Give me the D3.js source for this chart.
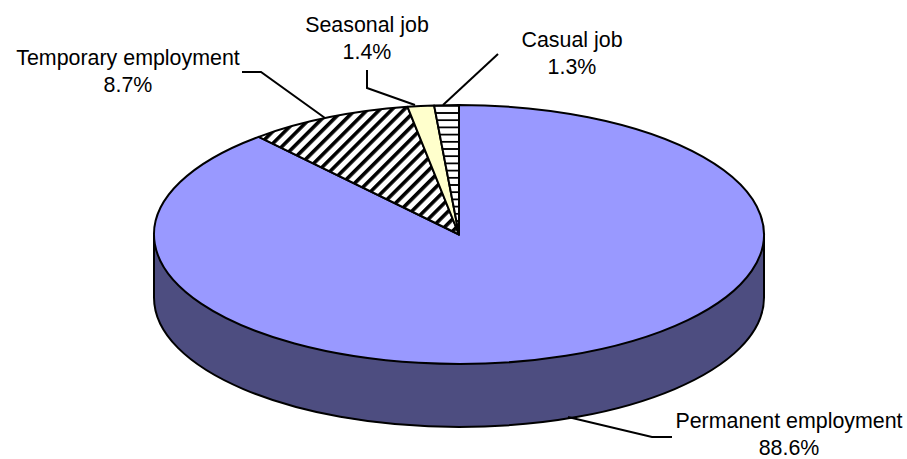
<!DOCTYPE html>
<html>
<head>
<meta charset="utf-8">
<script src="https://cdn.jsdelivr.net/npm/d3@7"></script>
<style>
html, body { margin: 0; background: #fff; }
svg { display: block; }
text { font-family: "Liberation Sans", Arial, sans-serif; font-size: 21.4px; fill: #000; }
</style>
</head>
<body>
<svg id="pie"></svg>
<script>
// values, clockwise from 12 o'clock
var categories = ['Permanent employment', 'Temporary employment', 'Seasonal job', 'Casual job'];
var shares = [88.6, 8.7, 1.4, 1.3];
var shareLabels = ['88.6%', '8.7%', '1.4%', '1.3%'];

var svgWidth = 907;
var svgHeight = 459;
var cx = 459;
var cy = 234.5;
var rx = 305;
var ry = 129.5;
var depth = 63;

var svg = d3.select('svg#pie')
    .attr('width', svgWidth)
    .attr('height', svgHeight);

var defs = svg.append('defs');

// wide upward diagonal hatch
var diag = defs.append('pattern')
    .attr('id', 'hatch-diag')
    .attr('patternUnits', 'userSpaceOnUse')
    .attr('width', 8.6)
    .attr('height', 8.6)
    .attr('patternTransform', 'scale(1,' + (rx / ry) + ') rotate(45)');
diag.append('rect').attr('width', 8.6).attr('height', 8.6).attr('fill', '#fff');
diag.append('rect').attr('width', 3.6).attr('height', 8.6).attr('fill', '#000');

// narrow horizontal lines
var horiz = defs.append('pattern')
    .attr('id', 'hatch-horiz')
    .attr('patternUnits', 'userSpaceOnUse')
    .attr('width', 8)
    .attr('height', 7.2)
    .attr('patternTransform', 'scale(1,' + (rx / ry) + ')');
horiz.append('rect').attr('width', 8).attr('height', 7.2).attr('fill', '#fff');
horiz.append('rect').attr('width', 8).attr('height', 1.8).attr('fill', '#000');

var fills = ['#9999ff', 'url(#hatch-diag)', '#ffffcc', 'url(#hatch-horiz)'];

// side wall of the disc
var wall = d3.path();
wall.moveTo(cx - rx, cy);
wall.lineTo(cx - rx, cy + depth);
wall.bezierCurveTo(cx - rx, cy + depth + ry * 0.5523, cx - rx * 0.5523, cy + depth + ry, cx, cy + depth + ry);
wall.bezierCurveTo(cx + rx * 0.5523, cy + depth + ry, cx + rx, cy + depth + ry * 0.5523, cx + rx, cy + depth);
wall.lineTo(cx + rx, cy);
wall.closePath();
svg.append('path')
    .attr('d', wall.toString())
    .attr('fill', '#4d4d80')
    .attr('stroke', '#000')
    .attr('stroke-width', 2);

var pie = d3.pie().sort(null);
var slices = pie(shares);
var arc = d3.arc().innerRadius(0).outerRadius(rx);

var face = svg.append('g')
    .attr('transform', 'translate(' + cx + ',' + cy + ') scale(1,' + (ry / rx) + ')');
face.selectAll('path.slice')
    .data(slices)
    .enter()
    .append('path')
    .attr('class', 'slice')
    .attr('d', arc)
    .attr('fill', function (d, i) { return fills[i]; })
    .attr('stroke', '#000')
    .attr('stroke-width', 2)
    .attr('stroke-linejoin', 'round')
    .attr('vector-effect', 'non-scaling-stroke');

// leader lines
var leaders = [
    [[672, 437], [652, 437], [568, 417]],
    [[242, 72], [261, 72], [325, 118]],
    [[367, 70], [367, 88], [415, 105]],
    [[498, 54], [443, 105]]
];
var line = d3.line();
svg.selectAll('path.leader')
    .data(leaders)
    .enter()
    .append('path')
    .attr('class', 'leader')
    .attr('d', line)
    .attr('fill', 'none')
    .attr('stroke', '#000')
    .attr('stroke-width', 2);

// first line baseline of each label, second line sits 26.5 below
var labelPos = [[789, 428], [128, 65], [367, 32], [572, 47]];
var labels = svg.selectAll('text.label')
    .data(categories)
    .enter()
    .append('text')
    .attr('class', 'label')
    .attr('text-anchor', 'middle')
    .attr('x', function (d, i) { return labelPos[i][0]; })
    .attr('y', function (d, i) { return labelPos[i][1]; });
labels.append('tspan')
    .text(function (d) { return d; });
labels.append('tspan')
    .attr('x', function (d, i) { return labelPos[i][0]; })
    .attr('dy', 26.5)
    .text(function (d, i) { return shareLabels[i]; });
</script>
</body>
</html>
